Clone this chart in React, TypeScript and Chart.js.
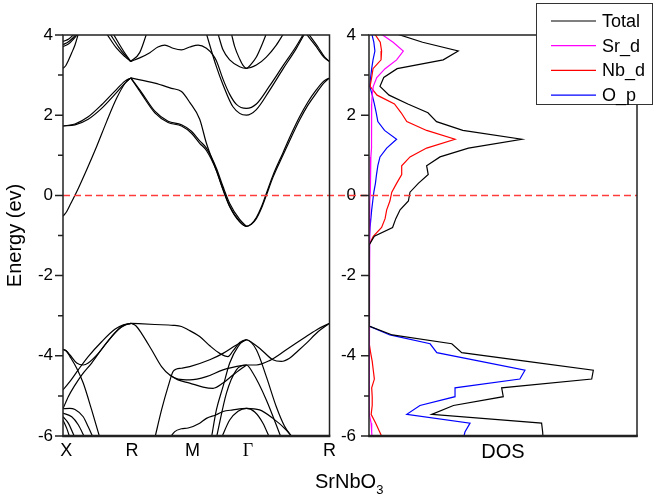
import React, { useEffect, useRef } from "react";
import { Chart, registerables } from "chart.js";
Chart.register(...registerables);

const FONT = "'Liberation Sans', Arial, sans-serif";

// ---------- band structure (k-path distance, energy eV) ----------
const kTickPos = [0.035, 0.72, 1.35, 1.93, 2.78];
const kTickLabels = ["X", "R", "M", "Γ", "R"];
const energyTicks = [-6, -5, -4, -3, -2, -1, 0, 1, 2, 3, 4];

// Nb t2g conduction bands
const cbA_XR = [[0,-0.52],[0.039,-0.4],[0.073,-0.24],[0.143,0.09],[0.247,0.64],[0.351,1.22],[0.455,1.84],[0.559,2.42],[0.646,2.79],[0.707,2.93]];
const cbB1_XR = [[0,1.73],[0.125,1.76],[0.263,1.9],[0.403,2.17],[0.541,2.52],[0.646,2.8],[0.707,2.93]];
const cbB2_XR = [[0,1.73],[0.125,1.78],[0.263,1.96],[0.403,2.26],[0.541,2.6],[0.646,2.85],[0.707,2.93]];
const cbU_RGR = [[0.707,2.93],[0.958,2.8],[1.131,2.67],[1.236,2.59],[1.322,2.32],[1.426,1.9],[1.496,1.3],[1.6,0.62],[1.669,0.16],[1.739,-0.27],[1.843,-0.65],[1.913,-0.77],[1.965,-0.72],[2.017,-0.58],[2.069,-0.33],[2.121,0.0],[2.19,0.45],[2.294,1.0],[2.381,1.45],[2.468,1.88],[2.555,2.25],[2.642,2.55],[2.72,2.8],[2.78,2.93]];
const cbL1_RGR = [[0.707,2.93],[0.819,2.53],[0.958,2.06],[1.096,1.82],[1.236,1.73],[1.34,1.55],[1.426,1.3],[1.496,1.12],[1.6,0.62],[1.669,0.14],[1.739,-0.28],[1.843,-0.66],[1.913,-0.77],[1.965,-0.71],[2.017,-0.55],[2.069,-0.29],[2.121,0.05],[2.19,0.5],[2.294,1.06],[2.381,1.53],[2.468,1.96],[2.555,2.33],[2.642,2.63],[2.72,2.85],[2.78,2.93]];
const cbL2_RG = [[0.707,2.93],[0.819,2.57],[0.958,2.1],[1.096,1.85],[1.236,1.76],[1.34,1.6],[1.426,1.36],[1.496,1.18],[1.6,0.68],[1.669,0.22],[1.739,-0.2],[1.843,-0.6],[1.913,-0.77]];

// upper conduction bands
const upX1 = [[0,3.17],[0.03,3.24],[0.055,3.36],[0.09,3.55],[0.125,3.75],[0.16,4.03]];
const upX2 = [[0,3.84],[0.06,3.9],[0.12,4.03]];
const upX3 = [[0,3.76],[0.05,3.82],[0.1,3.92],[0.14,4.03]];
const upX4 = [[0,3.71],[0.06,3.78],[0.11,3.9],[0.155,4.03]];
const upR1 = [[0.455,4.03],[0.559,3.67],[0.646,3.46],[0.707,3.34]];
const upR2 = [[0.49,4.03],[0.58,3.7],[0.66,3.46],[0.707,3.34]];
const upR3 = [[0.524,4.03],[0.6,3.72],[0.67,3.46],[0.707,3.34]];
const upR4 = [[0.707,3.34],[0.8,3.56],[0.872,4.03]];
const upW = [[0.707,3.34],[0.8,3.43],[0.906,3.56],[0.99,3.7],[1.062,3.75],[1.148,3.67],[1.236,3.63],[1.322,3.7],[1.409,3.75],[1.496,3.67],[1.565,3.5],[1.6,3.36],[1.669,2.9],[1.739,2.52],[1.809,2.27],[1.913,2.17],[2.017,2.28],[2.155,2.73],[2.294,3.23],[2.433,3.72],[2.51,4.03]];
const upV = [[1.496,4.03],[1.6,3.21],[1.669,2.76],[1.773,2.21],[1.913,2.0],[2.017,2.14],[2.155,2.62],[2.294,3.15],[2.433,3.66],[2.52,4.03]];
const upP1 = [[1.617,4.03],[1.669,3.63],[1.739,3.38],[1.843,3.21],[1.913,3.17],[2.017,3.25],[2.121,3.45],[2.225,3.75],[2.3,4.03]];
const upP2 = [[1.757,4.03],[1.791,3.71],[1.843,3.4],[1.878,3.24],[1.913,3.17],[1.965,3.28],[2.017,3.45],[2.069,3.72],[2.121,4.03]];
const upRR1 = [[2.537,4.03],[2.642,3.71],[2.72,3.45],[2.78,3.34]];
const upRR2 = [[2.56,4.03],[2.66,3.7],[2.73,3.45],[2.78,3.34]];

// O 2p valence bands
const vbX1 = [[0,-3.84],[0.035,-3.88],[0.073,-4.02],[0.143,-4.31],[0.211,-4.68],[0.299,-5.35],[0.385,-6.05]];
const vbX2 = [[0,-3.84],[0.035,-3.88],[0.073,-3.98],[0.143,-4.18],[0.211,-4.23],[0.263,-4.18],[0.368,-3.94],[0.507,-3.52],[0.611,-3.27],[0.707,-3.19]];
const vbX3 = [[0,-4.85],[0.073,-4.64],[0.159,-4.35],[0.263,-4.02],[0.403,-3.65],[0.541,-3.34],[0.63,-3.23],[0.707,-3.19]];
const vbX4 = [[0,-5.32],[0.055,-5.02],[0.125,-4.73],[0.195,-4.48],[0.299,-4.18],[0.437,-3.73],[0.576,-3.35],[0.65,-3.23],[0.707,-3.19]];
const vbX5 = [[0,-5.32],[0.07,-5.31],[0.125,-5.34],[0.211,-5.52],[0.263,-5.77],[0.316,-6.05]];
const vbX6 = [[0,-5.43],[0.091,-5.52],[0.159,-5.72],[0.229,-6.05]];
const vbX7 = [[0,-5.52],[0.055,-5.68],[0.125,-6.05]];
const vbX8 = [[0,-5.6],[0.039,-5.81],[0.073,-6.05]];
const vbF = [[0.707,-3.19],[0.958,-3.22],[1.15,-3.24],[1.236,-3.27],[1.305,-3.35],[1.426,-3.52],[1.531,-3.75],[1.635,-3.94],[1.721,-4.02],[1.773,-3.88],[1.843,-3.67],[1.913,-3.6],[1.965,-3.66],[2.051,-3.81],[2.19,-4.1],[2.277,-4.14],[2.363,-4.06],[2.45,-3.88],[2.537,-3.69],[2.66,-3.4],[2.78,-3.19]];
const vbRS = [[0.707,-3.19],[0.76,-3.25],[0.819,-3.44],[0.924,-3.85],[1.028,-4.27],[1.114,-4.48],[1.2,-4.58],[1.322,-4.6],[1.496,-4.52],[1.669,-4.35],[1.877,-4.24],[1.913,-4.23],[2.017,-4.23],[2.155,-4.12],[2.329,-3.85],[2.537,-3.52],[2.66,-3.33],[2.78,-3.19]];
const vbL3 = [[1.114,-4.48],[1.2,-4.6],[1.322,-4.68],[1.461,-4.78],[1.565,-4.81],[1.669,-4.68],[1.773,-4.48],[1.913,-4.23]];
const vbBT = [[0.958,-6.05],[1.028,-5.35],[1.096,-4.77],[1.148,-4.39],[1.184,-4.33],[1.236,-4.31],[1.322,-4.27],[1.531,-4.1],[1.669,-3.94],[1.809,-3.73],[1.913,-3.6]];
const vbWd = [[1.114,-6.05],[1.166,-5.89],[1.236,-5.82],[1.305,-5.8],[1.426,-5.68],[1.496,-5.56],[1.6,-5.47],[1.669,-5.39],[1.773,-5.35],[1.913,-5.31],[2.051,-5.35],[2.19,-5.56],[2.329,-5.85],[2.398,-6.05]];
const vbS1 = [[1.548,-6.05],[1.6,-5.35],[1.669,-4.77],[1.739,-4.18],[1.826,-3.77],[1.913,-3.6],[2.017,-3.85],[2.121,-4.52],[2.225,-5.27],[2.31,-5.75],[2.398,-6.05]];
const vbS2 = [[1.6,-6.05],[1.705,-4.93],[1.809,-4.35],[1.913,-4.23],[1.981,-4.43],[2.121,-5.1],[2.277,-6.05]];
const vbS3 = [[1.652,-6.05],[1.739,-5.6],[1.826,-5.38],[1.913,-5.31],[2.0,-5.4],[2.086,-5.68],[2.155,-6.05]];

const bands = [
  cbA_XR, cbB1_XR, cbB2_XR, cbU_RGR, cbL1_RGR, cbL2_RG,
  upX1, upX2, upX3, upX4, upR1, upR2, upR3, upR4, upW, upV, upP1, upP2, upRR1, upRR2,
  vbX1, vbX2, vbX3, vbX4, vbX5, vbX6, vbX7, vbX8, vbF, vbRS, vbL3, vbBT, vbWd, vbS1, vbS2, vbS3,
];

// ---------- density of states ----------
const dosEnergy = [4.04,3.82,3.60,3.38,3.16,2.94,2.72,2.50,2.28,2.06,1.84,1.62,1.40,1.18,0.96,0.74,0.52,0.30,0.08,-0.14,-0.36,-0.58,-0.80,-1.02,-1.24,-1.46,-3.04,-3.26,-3.48,-3.70,-3.92,-4.14,-4.36,-4.58,-4.80,-5.02,-5.24,-5.46,-5.68,-5.90,-6.12];
const dosTotal = [0.97,2.0,3.33,2.77,1.05,0.55,0.41,0.75,1.45,2.2,2.52,3.5,5.70,3.71,2.65,2.15,2.21,1.84,1.53,1.47,1.16,1.0,0.88,0.2,0,0,0,0.01,0.87,3.09,3.46,5.9,8.37,8.31,4.95,5.01,3.15,2.34,6.44,6.48,6.5];
const dosSrD = [0.42,0.9,1.28,1.03,0.6,0.29,0.16,0.12,0.1,0.1,0.1,0.1,0.09,0.08,0.07,0.06,0.05,0.05,0.04,0.03,0.02,0.02,0.01,0.01,0,0,0,0,0.01,0.01,0.01,0.01,0.01,0.01,0.01,0.01,0.02,0.03,0.08,0.1,0.12];
const dosNbD = [0.2,0.42,0.47,0.45,0.15,0.1,0.04,0.3,0.95,1.2,1.41,2.15,3.21,2.15,1.53,1.22,1.22,1.03,0.85,0.78,0.66,0.6,0.47,0.16,0,0,0,0,0.02,0.03,0.06,0.12,0.16,0.2,0.1,0.12,0.12,0.08,0.25,0.4,0.55];
const dosOP = [0.1,0.18,0.22,0.15,0.1,0.06,0.03,0.12,0.2,0.27,0.33,0.58,1.03,0.66,0.41,0.33,0.28,0.24,0.18,0.14,0.1,0.07,0.04,0.02,0,0,0,0.01,0.78,2.28,2.53,4.17,5.82,5.63,3.21,3.21,1.9,1.41,3.77,3.58,3.5];
const dosSeries = [
  { label: "Total", values: dosTotal, color: "#000000" },
  { label: "Sr_d", values: dosSrD, color: "#FF00FF" },
  { label: "Nb_d", values: dosNbD, color: "#FF0000" },
  { label: "O_p", values: dosOP, color: "#0000FF" },
];

const DASH = [7, 4];

function frameTicksPlugin() {
  return {
    id: "frameTicks",
    afterDraw(chart: any) {
      const { ctx, chartArea: a, scales } = chart;
      const y = scales.y;
      ctx.save();
      ctx.strokeStyle = "#222";
      ctx.lineWidth = 1.5;
      ctx.beginPath();
      for (const v of energyTicks) {
        const py = y.getPixelForValue(v);
        const len = v % 2 === 0 ? 8 : 5;
        ctx.moveTo(a.left - len, py);
        ctx.lineTo(a.left, py);
      }
      ctx.stroke();
      ctx.lineWidth = 1.5;
      ctx.strokeRect(a.left, a.top, a.right - a.left, a.bottom - a.top);
      ctx.lineWidth = 2.5;
      ctx.beginPath();
      ctx.moveTo(a.left - 0.75, a.bottom);
      ctx.lineTo(a.right + 0.75, a.bottom);
      ctx.stroke();
      ctx.restore();
    },
  };
}

function zeroLinePlugin(fromCanvasLeft: boolean, dashOffset: number) {
  return {
    id: "zeroLine",
    afterDatasetsDraw(chart: any) {
      const { ctx, chartArea: a, scales } = chart;
      const py = scales.y.getPixelForValue(0);
      ctx.save();
      ctx.strokeStyle = "rgb(255,60,60)";
      ctx.lineWidth = 1.5;
      ctx.setLineDash(DASH);
      ctx.lineDashOffset = dashOffset;
      ctx.beginPath();
      ctx.moveTo(fromCanvasLeft ? 0 : a.left, py);
      ctx.lineTo(fromCanvasLeft ? a.right : chart.width, py);
      ctx.stroke();
      ctx.restore();
    },
  };
}

const legendPlugin = {
  id: "boxLegend",
  afterDraw(chart: any) {
    const { ctx } = chart;
    const right = chart.width - 1;
    const left = right - 117;
    const top = 3;
    const h = 102;
    ctx.save();
    ctx.fillStyle = "#fff";
    ctx.fillRect(left, top, right - left, h);
    ctx.strokeStyle = "#333";
    ctx.lineWidth = 1;
    ctx.strokeRect(left + 0.5, top + 0.5, right - left - 1, h - 1);
    ctx.font = `18px ${FONT}`;
    ctx.textBaseline = "middle";
    ctx.textAlign = "left";
    chart.data.datasets.forEach((ds: any, i: number) => {
      const yy = top + 18 + i * 24.7;
      ctx.strokeStyle = ds.borderColor;
      ctx.lineWidth = 1.2;
      ctx.beginPath();
      ctx.moveTo(left + 15, yy);
      ctx.lineTo(left + 60, yy);
      ctx.stroke();
      ctx.fillStyle = "#000";
      ctx.fillText(ds.label, left + 66, yy + 1);
    });
    ctx.restore();
  },
};

const yScaleBase = (padding: number, width: number) => ({
  type: "linear" as const,
  min: -6,
  max: 4,
  ticks: { stepSize: 2, padding, color: "#000", font: { size: 17, family: FONT } },
  grid: { display: false, drawTicks: false },
  border: { display: false },
  afterFit: (s: any) => { s.width = width; },
});

export default function App() {
  const bandRef = useRef<HTMLCanvasElement>(null);
  const dosRef = useRef<HTMLCanvasElement>(null);

  useEffect(() => {
    Chart.defaults.font.family = FONT;
    Chart.defaults.color = "#000";

    const bandChart = new Chart(bandRef.current as HTMLCanvasElement, {
      type: "line",
      data: {
        datasets: bands.map((b, i) => ({
          label: "band" + i,
          data: b.map(([k, e]) => ({ x: k, y: e })),
          borderColor: "#000",
          borderWidth: 1.2,
          pointRadius: 0,
          fill: false,
          cubicInterpolationMode: "monotone" as const,
        })),
      },
      options: {
        responsive: false,
        animation: false,
        layout: { padding: { top: 35, right: 10, left: 0, bottom: 0 } },
        plugins: { legend: { display: false }, tooltip: { enabled: false } },
        scales: {
          x: {
            type: "linear",
            min: 0,
            max: 2.78,
            grid: { display: false, drawTicks: false },
            border: { display: false },
            afterBuildTicks: (s: any) => { s.ticks = kTickPos.map((v) => ({ value: v })); },
            afterFit: (s: any) => { s.height = 64; },
            ticks: {
              autoSkip: false,
              maxRotation: 0,
              padding: 4,
              color: "#000",
              callback: (_v: any, i: number) => kTickLabels[i],
              font: (c: any) => (c.index === 3
                ? { size: 18, family: "'Liberation Serif', 'Times New Roman', serif" }
                : { size: 18, family: FONT }),
            },
          },
          y: {
            ...yScaleBase(10, 63),
            title: { display: true, text: "Energy (ev)", color: "#000", font: { size: 20, family: FONT }, padding: { top: 3, bottom: 0 } },
          },
        },
      },
      plugins: [frameTicksPlugin(), zeroLinePlugin(false, 0)],
    });

    const dosChart = new Chart(dosRef.current as HTMLCanvasElement, {
      type: "line",
      data: {
        datasets: dosSeries.map((s) => ({
          label: s.label,
          data: dosEnergy.map((e, i) => ({ x: s.values[i], y: e })),
          borderColor: s.color,
          borderWidth: 1.2,
          pointRadius: 0,
          fill: false,
          tension: 0,
        })),
      },
      options: {
        responsive: false,
        animation: false,
        indexAxis: "y",
        layout: { padding: { top: 35, right: 17, left: 0, bottom: 0 } },
        plugins: { legend: { display: false }, tooltip: { enabled: false } },
        scales: {
          x: {
            type: "linear",
            min: 0,
            max: 10,
            grid: { display: false, drawTicks: false },
            border: { display: false },
            ticks: { display: false },
            afterFit: (s: any) => { s.height = 64; },
            title: { display: true, text: "DOS", color: "#000", font: { size: 20, family: FONT }, padding: { top: 0, bottom: 36 } },
          },
          y: yScaleBase(13, 29),
        },
      },
      plugins: [frameTicksPlugin(), zeroLinePlugin(true, (340 - 63) % 11), legendPlugin],
    });

    return () => {
      bandChart.destroy();
      dosChart.destroy();
    };
  }, []);

  return (
    <div style={{ position: "absolute", left: 0, top: 0, width: 654, height: 500, background: "#fff", overflow: "hidden" }}>
      <canvas ref={bandRef} width={340} height={500} style={{ position: "absolute", left: 0, top: 0 }} />
      <canvas ref={dosRef} width={314} height={500} style={{ position: "absolute", left: 340, top: 0 }} />
      <div style={{ position: "absolute", left: 315, top: 469, fontFamily: FONT, fontSize: 20, lineHeight: "24px", color: "#000", whiteSpace: "nowrap" }}>
        SrNbO<span style={{ fontSize: 13, position: "relative", top: 6 }}>3</span>
      </div>
    </div>
  );
}
